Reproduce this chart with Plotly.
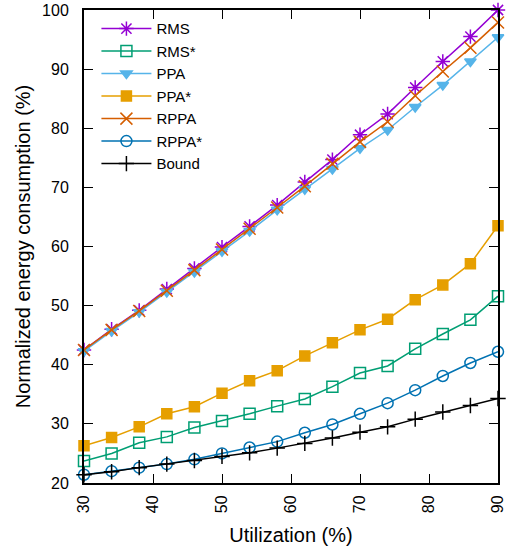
import plotly.graph_objects as go

utilization = [30, 34, 38, 42, 46, 50, 54, 58, 62, 66, 70, 74, 78, 82, 86, 90]
rms = [42.5, 46.0, 49.2, 52.8, 56.3, 59.9, 63.4, 67.0, 70.9, 74.7, 78.9, 82.4, 86.9, 91.3, 95.5, 100.0]
rms_star = [23.7, 25.0, 26.8, 27.8, 29.4, 30.5, 31.7, 33.0, 34.2, 36.3, 38.6, 39.8, 42.7, 45.2, 47.6, 51.6]
ppa = [42.3, 45.7, 48.9, 52.3, 55.7, 59.2, 62.6, 66.2, 69.7, 73.1, 76.6, 79.7, 83.6, 87.3, 91.3, 95.4]
ppa_star = [26.3, 27.7, 29.5, 31.7, 32.9, 35.2, 37.3, 39.0, 41.5, 43.7, 45.9, 47.7, 51.0, 53.5, 57.1, 63.5]
rppa = [42.5, 45.9, 49.1, 52.5, 56.0, 59.5, 63.0, 66.6, 70.2, 74.0, 77.7, 81.1, 85.5, 89.6, 93.6, 97.9]
rppa_star = [21.4, 22.0, 22.6, 23.2, 24.0, 25.0, 26.0, 27.0, 28.5, 29.9, 31.7, 33.5, 35.7, 38.1, 40.3, 42.2]
bound = [21.4, 21.9, 22.6, 23.2, 23.8, 24.5, 25.1, 25.9, 26.7, 27.6, 28.6, 29.5, 30.8, 32.0, 33.1, 34.3]

x_ticks = [30, 40, 50, 60, 70, 80, 90]
y_ticks = [20, 30, 40, 50, 60, 70, 80, 90, 100]

series = [
    ("RMS", rms, "#9400d3", "asterisk-open", 12),
    ("RMS*", rms_star, "#009e73", "square-open", 11),
    ("PPA", ppa, "#56b4e9", "triangle-down", 10),
    ("PPA*", ppa_star, "#e69f00", "square", 10),
    ("RPPA", rppa, "#d55e00", "x-thin-open", 12),
    ("RPPA*", rppa_star, "#0072b2", "circle-open", 11),
    ("Bound", bound, "#000000", "cross-thin-open", 11),
]

fig = go.Figure()
for name, vals, color, sym, size in series:
    fig.add_trace(go.Scatter(
        x=utilization, y=vals, name=name, mode="lines+markers",
        line=dict(color=color, width=1.5),
        marker=dict(symbol=sym, size=size, color=color,
                    line=dict(color=color, width=1.5)),
        cliponaxis=False,
    ))

font_family = "Liberation Sans, Arial, sans-serif"
axis_common = dict(
    showline=True, linecolor="black", linewidth=2, mirror="ticks",
    ticks="inside", ticklen=9, tickwidth=1, tickcolor="black",
    showgrid=False, zeroline=False, automargin=False,
    tickfont=dict(family=font_family, size=16, color="black"),
)

fig.update_layout(
    width=508, height=551,
    margin=dict(l=84, r=10, t=10, b=68),
    paper_bgcolor="white", plot_bgcolor="white",
    font=dict(family=font_family, color="black"),
    xaxis=dict(range=[30, 90], tickvals=x_ticks, tickangle=-90, ticklabelstandoff=4,
               title=dict(text="Utilization (%)", font=dict(size=20), standoff=16),
               **axis_common),
    yaxis=dict(range=[20, 100], tickvals=y_ticks, ticklabelstandoff=10,
               title=dict(text="Normalized energy consumption (%)", font=dict(size=20), standoff=6),
               **axis_common),
    legend=dict(x=0.03, y=0.995, xanchor="left", yanchor="top",
                bgcolor="rgba(0,0,0,0)", font=dict(size=15, family=font_family),
                tracegroupgap=0, itemwidth=50),
    showlegend=True,
)

# remove the default page margin so the 508x551 figure fills the window exactly
fig.write_html(
    "out.html",
    config={"displayModeBar": False},
    post_script="document.body.style.margin='0';document.body.style.overflow='hidden';",
)
